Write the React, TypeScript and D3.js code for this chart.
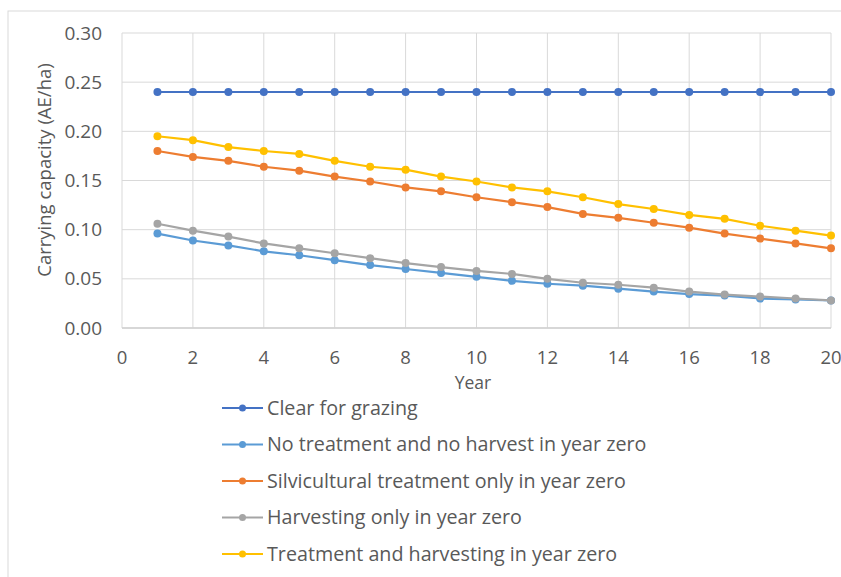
import React from "react";
import * as d3 from "d3";

const years = d3.range(1, 21);
const seriesNames = [
  "Clear for grazing",
  "No treatment and no harvest in year zero",
  "Silvicultural treatment only in year zero",
  "Harvesting only in year zero",
  "Treatment and harvesting in year zero",
];
const seriesColors = ["#4472C4", "#5B9BD5", "#ED7D31", "#A5A5A5", "#FFC000"];

const clearGrazing = [0.24, 0.24, 0.24, 0.24, 0.24, 0.24, 0.24, 0.24, 0.24, 0.24, 0.24, 0.24, 0.24, 0.24, 0.24, 0.24, 0.24, 0.24, 0.24, 0.24];
const noTreatment = [0.096, 0.089, 0.084, 0.078, 0.074, 0.069, 0.064, 0.06, 0.056, 0.052, 0.048, 0.045, 0.043, 0.04, 0.037, 0.0345, 0.033, 0.03, 0.029, 0.028];
const silvicultural = [0.18, 0.174, 0.17, 0.164, 0.16, 0.154, 0.149, 0.143, 0.139, 0.133, 0.128, 0.123, 0.116, 0.112, 0.107, 0.102, 0.096, 0.091, 0.086, 0.081];
const harvesting = [0.106, 0.099, 0.093, 0.086, 0.081, 0.076, 0.071, 0.066, 0.062, 0.058, 0.055, 0.05, 0.046, 0.044, 0.041, 0.037, 0.034, 0.032, 0.03, 0.028];
const treatHarvest = [0.195, 0.191, 0.184, 0.18, 0.177, 0.17, 0.164, 0.161, 0.154, 0.149, 0.143, 0.139, 0.133, 0.126, 0.121, 0.115, 0.111, 0.104, 0.099, 0.094];

const allSeries = [clearGrazing, noTreatment, silvicultural, harvesting, treatHarvest];
const xTicks = [0, 2, 4, 6, 8, 10, 12, 14, 16, 18, 20];
const yTicks = [0, 0.05, 0.1, 0.15, 0.2, 0.25, 0.3];

const W = 841;
const H = 577;
const FONT = "'Open Sans', 'Noto Sans', sans-serif";

export default function App() {
  const x = d3.scaleLinear().domain([0, 20]).range([122, 831]);
  const y = d3.scaleLinear().domain([0, 0.3]).range([328, 33]);
  const line = d3
    .line<number>()
    .x((_, i) => x(years[i]))
    .y((d) => y(d));

  return (
    <svg
      width={W}
      height={H}
      style={{ position: "absolute", left: 0, top: 0, background: "#fff" }}
      fontFamily={FONT}
    >
      <rect x={8} y={11} width={W} height={H} fill="#fff" stroke="#d9d9d9" strokeWidth={1} />
      {yTicks.map((t) => (
        <line key={"gy" + t} x1={x(0)} x2={x(20)} y1={y(t)} y2={y(t)} stroke="#d9d9d9" strokeWidth={1} />
      ))}
      {xTicks.map((t) => (
        <line key={"gx" + t} x1={x(t)} x2={x(t)} y1={y(0)} y2={y(0.3)} stroke="#d9d9d9" strokeWidth={1} />
      ))}
      <line x1={x(0)} x2={x(20)} y1={y(0)} y2={y(0)} stroke="#d0d0d0" strokeWidth={1.5} />
      {yTicks.map((t) => (
        <text key={"ty" + t} x={102} y={y(t)} dy="0.35em" textAnchor="end" fontSize={19} fill="#595959">
          {t.toFixed(2)}
        </text>
      ))}
      {xTicks.map((t) => (
        <text key={"tx" + t} x={x(t)} y={357.5} dy="0.35em" textAnchor="middle" fontSize={18.5} fill="#595959">
          {t}
        </text>
      ))}
      <text x={473} y={383} dy="0.35em" textAnchor="middle" fontSize={17.5} fill="#595959">
        Year
      </text>
      <text
        transform={`translate(45, 170) rotate(-90)`}
        textAnchor="middle"
        dy="0.35em"
        fontSize={18.5}
        fill="#595959"
      >
        Carrying capacity (AE/ha)
      </text>
      {allSeries.map((s, si) => (
        <g key={"s" + si}>
          <path d={line(s) || ""} fill="none" stroke={seriesColors[si]} strokeWidth={2.2} />
          {s.map((v, i) => (
            <circle key={i} cx={x(years[i])} cy={y(v)} r={4} fill={seriesColors[si]} />
          ))}
        </g>
      ))}
      {seriesNames.map((name, i) => {
        const ly = 408 + i * 36.5;
        return (
          <g key={"l" + i}>
            <line x1={222} x2={263} y1={ly} y2={ly} stroke={seriesColors[i]} strokeWidth={2.2} />
            <circle cx={242.5} cy={ly} r={3.5} fill={seriesColors[i]} />
            <text x={267} y={ly} dy="0.35em" fontSize={19.7} fill="#595959">
              {name}
            </text>
          </g>
        );
      })}
    </svg>
  );
}
